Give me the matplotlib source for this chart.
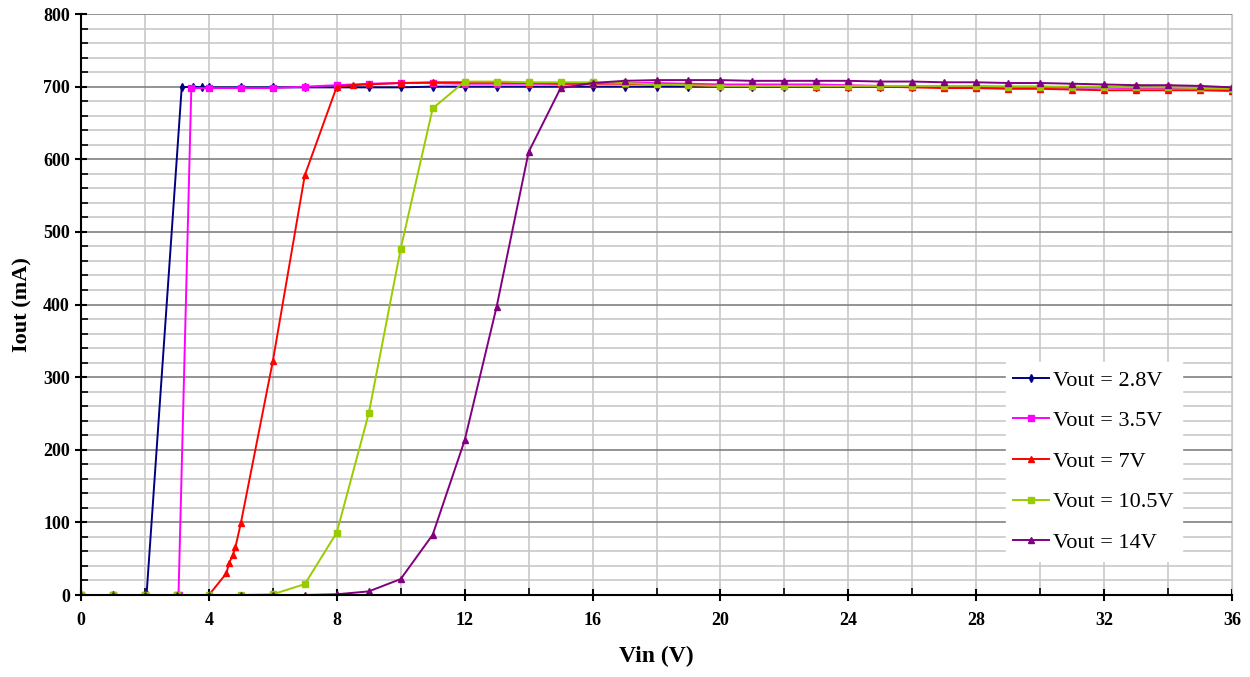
import numpy as np
import matplotlib.pyplot as plt
from matplotlib.ticker import MultipleLocator

# Vin (V) i Iout (mA) dla kazdego napiecia wyjsciowego
labels = ['Vout = 2.8V', 'Vout = 3.5V', 'Vout = 7V', 'Vout = 10.5V', 'Vout = 14V']
colors = ['#000080', '#ff00ff', '#ff0000', '#99cc00', '#800080']
markers = ['d', 's', '^', 's', '^']

vin_28 = [0, 1, 2, 2.05, 3.15, 3.5, 3.8, 4, 5, 6, 7, 8, 9, 10, 11, 12, 13, 14, 15, 16, 17,
          18, 19, 20, 21, 22, 23, 24, 25, 26, 27, 28, 29, 30, 31, 32, 33, 34, 35, 36]
iout_28 = [0, 0, 0, 0, 699, 700, 699, 699, 699, 699, 699, 699, 699, 699, 700, 700, 700, 700, 700, 700, 700,
           700, 700, 700, 700, 700, 700, 700, 700, 700, 700, 700, 699, 699, 699, 699, 699, 698, 698, 697]

vin_35 = [0, 1, 2, 3, 3.05, 3.45, 4, 5, 6, 7, 8, 9, 10, 11, 12, 13, 14, 15, 16, 17,
          18, 19, 20, 21, 22, 23, 24, 25, 26, 27, 28, 29, 30, 31, 32, 33, 34, 35, 36]
iout_35 = [0, 0, 0, 0, 0, 698, 698, 698, 698, 700, 702, 704, 705, 705, 704, 704, 704, 704, 705, 705,
           705, 704, 703, 703, 703, 703, 702, 701, 700, 700, 700, 700, 700, 699, 699, 698, 698, 698, 697]

vin_7 = [0, 1, 2, 3, 4, 4.55, 4.63, 4.75, 4.83, 5, 6, 7, 8, 8.5, 9, 10, 11, 12, 13, 14, 15, 16, 17,
         18, 19, 20, 21, 22, 23, 24, 25, 26, 27, 28, 29, 30, 31, 32, 33, 34, 35, 36]
iout_7 = [0, 0, 0, 0, 0, 30, 44, 55, 66, 99, 322, 578, 700, 702, 703, 705, 706, 706, 706, 705, 704, 704, 704,
          703, 702, 701, 701, 701, 700, 700, 700, 699, 698, 698, 697, 697, 696, 695, 695, 695, 695, 694]

vin_105 = [0, 1, 2, 3, 4, 5, 6, 7, 8, 9, 10, 11, 12, 13, 14, 15, 16, 17,
           18, 19, 20, 21, 22, 23, 24, 25, 26, 27, 28, 29, 30, 31, 32, 33, 34, 35, 36]
iout_105 = [0, 0, 0, 0, 0, 0, 1, 15, 86, 250, 477, 670, 707, 707, 706, 706, 706, 705,
            703, 702, 701, 701, 701, 701, 701, 701, 701, 701, 701, 700, 700, 700, 700, 699, 699, 698, 697]

vin_14 = [0, 1, 2, 3, 4, 5, 6, 7, 8, 9, 10, 11, 12, 13, 14, 15, 16, 17,
          18, 19, 20, 21, 22, 23, 24, 25, 26, 27, 28, 29, 30, 31, 32, 33, 34, 35, 36]
iout_14 = [0, 0, 0, 0, 0, 0, 0, 0, 1, 5, 22, 83, 213, 397, 610, 698, 705, 708,
           709, 709, 709, 708, 708, 708, 708, 707, 707, 706, 706, 705, 705, 704, 703, 702, 702, 701, 699]

series = [(vin_28, iout_28), (vin_35, iout_35), (vin_7, iout_7), (vin_105, iout_105), (vin_14, iout_14)]

plt.rcParams['font.family'] = ['Liberation Serif', 'DejaVu Serif']

fig = plt.figure(figsize=(12.5, 6.77), dpi=100)
ax = fig.add_axes([0.0648, 0.1211, 0.9208, 0.8582])

for (x, y), lab, c, m in zip(series, labels, colors, markers):
    ax.plot(x, y, color=c, marker=m, markersize=4, linewidth=1.4, label=lab)

ax.set_xlim(0, 36)
ax.set_ylim(0, 800)
ax.xaxis.set_major_locator(MultipleLocator(4))
ax.xaxis.set_minor_locator(MultipleLocator(2))
ax.yaxis.set_major_locator(MultipleLocator(100))
ax.yaxis.set_minor_locator(MultipleLocator(20))

# Siatka jak w Excelu
ax.grid(which='minor', color='#c8c8c8', linewidth=1.2)
ax.grid(which='major', axis='x', color='#c8c8c8', linewidth=1.2)
ax.grid(which='major', axis='y', color='#808080', linewidth=1.2)
ax.set_axisbelow(True)

ax.spines['top'].set_visible(False)
ax.spines['right'].set_color('#c8c8c8')
ax.spines['left'].set_linewidth(1.5)
ax.spines['bottom'].set_linewidth(1.5)

ax.tick_params(which='major', direction='inout', length=9, width=1.5, labelsize=13)
ax.tick_params(which='minor', direction='in', length=5, width=1.2)
ax.tick_params(axis='x', pad=8)
for t in ax.get_xticklabels() + ax.get_yticklabels():
    t.set_fontweight('bold')

ax.set_xlabel('Vin (V)', fontsize=17, fontweight='bold', labelpad=12)
ax.set_ylabel('Iout (mA)', fontsize=16, fontweight='bold', labelpad=8)

leg = ax.legend(loc='lower right', bbox_to_anchor=(0.966, 0.04), fontsize=16,
                frameon=True, fancybox=False, edgecolor='white', framealpha=1,
                handlelength=1.6, handletextpad=0.2, labelspacing=0.9, borderpad=0.35)

fig.savefig('out.png', dpi=100)
